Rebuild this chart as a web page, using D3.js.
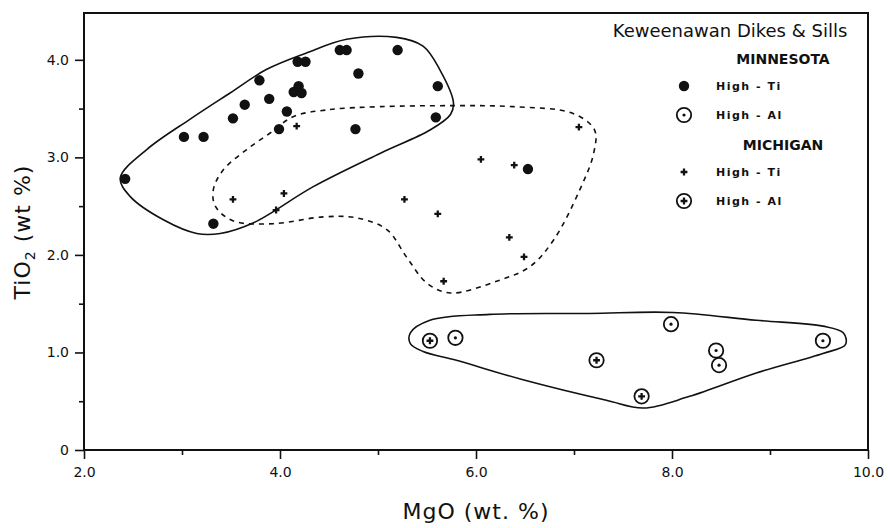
<!DOCTYPE html>
<html>
<head>
<meta charset="utf-8">
<script src="https://cdn.jsdelivr.net/npm/d3@7"></script>
<style>
  body { margin: 0; background: #fff; }
  text { font-family: "DejaVu Sans", sans-serif; fill: #111; }
</style>
</head>
<body>
<script>
// ---------------------------------------------------------------- data
// Minnesota High-Ti  [MgO, TiO2]
var mnHighTi = [
  [2.42,2.78],[3.02,3.21],[3.22,3.21],[3.52,3.40],[3.64,3.54],[3.79,3.79],
  [3.89,3.60],[4.07,3.47],[3.99,3.29],[4.18,3.98],[4.26,3.98],[4.19,3.73],
  [4.14,3.67],[4.22,3.66],[4.61,4.10],[4.68,4.10],[5.20,4.10],[4.80,3.86],
  [4.77,3.29],[5.61,3.73],[5.59,3.41],[3.32,2.32],[6.53,2.88]
];
// Minnesota High-Al
var mnHighAl = [[5.79,1.15],[7.99,1.29],[8.45,1.02],[8.48,0.87],[9.54,1.12]];
// Michigan High-Ti
var miHighTi = [
  [4.17,3.32],[3.52,2.57],[4.04,2.63],[3.96,2.46],[5.27,2.57],[5.61,2.42],
  [6.05,2.98],[6.39,2.92],[7.05,3.31],[6.34,2.18],[6.49,1.98],[5.67,1.73]
];
// Michigan High-Al
var miHighAl = [[5.53,1.12],[7.23,0.92],[7.69,0.55]];

// hand drawn envelopes
var envMnTi = [
  [2.37,2.79],[2.64,3.08],[3.08,3.39],[3.49,3.66],[3.86,3.90],[4.27,4.07],
  [4.68,4.21],[5.19,4.23],[5.46,4.14],[5.63,3.90],[5.77,3.56],[5.74,3.44],
  [5.53,3.28],[5.02,3.04],[4.34,2.70],[3.73,2.33],[3.39,2.22],[3.15,2.22],
  [2.81,2.36],[2.47,2.60]
];
var envMiTi = [
  [4.14,3.42],[4.51,3.49],[5.02,3.52],[5.77,3.53],[6.38,3.52],[6.99,3.45],
  [7.21,3.28],[7.20,3.04],[7.06,2.67],[6.79,2.15],[6.55,1.88],[6.21,1.73],
  [5.74,1.61],[5.50,1.71],[5.29,1.98],[5.09,2.26],[4.78,2.38],[4.44,2.39],
  [3.93,2.32],[3.52,2.35],[3.34,2.50],[3.32,2.67],[3.42,2.87],[3.66,3.08],
  [3.90,3.25]
];
var envHighAl = [
  [5.33,1.20],[5.53,1.33],[6.14,1.39],[7.16,1.40],[8.01,1.41],[8.86,1.33],
  [9.54,1.27],[9.75,1.20],[9.77,1.08],[9.54,0.99],[8.86,0.79],[8.18,0.55],
  [7.71,0.43],[7.33,0.51],[6.48,0.72],[5.80,0.92],[5.46,1.01],[5.33,1.09]
];

var xTicks = [2,4,6,8,10];
var xMinor = [3,5,7,9];
var xTickLabels = ["2.0","4.0","6.0","8.0","10.0"];
var yTicks = [0,1,2,3,4];
var yMinor = [0.5,1.5,2.5,3.5];
var yTickLabels = ["0","1.0","2.0","3.0","4.0"];

var legendGroups = ["MINNESOTA","MICHIGAN"];
var legendItems = [
  {group:"MINNESOTA", sym:"dot",   label:"High - Ti"},
  {group:"MINNESOTA", sym:"cdot",  label:"High - Al"},
  {group:"MICHIGAN",  sym:"plus",  label:"High - Ti"},
  {group:"MICHIGAN",  sym:"cplus", label:"High - Al"}
];

// ---------------------------------------------------------------- setup
var W = 888, H = 528;
var padL = 84, padR = 868, padT = 13, padB = 450;

var svg = d3.select("body").append("svg")
    .attr("width", W)
    .attr("height", H);

var x = d3.scaleLinear().domain([2,10]).range([padL,padR]);
var y = d3.scaleLinear().domain([0,4.48]).range([padB,padT]);

//****************************** frame / axes
svg.append("rect")
  .attr("x", padL).attr("y", padT)
  .attr("width", padR-padL).attr("height", padB-padT)
  .attr("fill","none").attr("stroke","#111").attr("stroke-width",2);

var xAxis = svg.append("g")
  .attr("transform","translate(0,"+padB+")")
  .call(d3.axisBottom(x).tickValues(xTicks).tickSize(9).tickPadding(8)
        .tickFormat(function(d,i){ return xTickLabels[i]; }));
var xAxisMinor = svg.append("g")
  .attr("transform","translate(0,"+padB+")")
  .call(d3.axisBottom(x).tickValues(xMinor).tickSize(5).tickFormat(""));

var yAxis = svg.append("g")
  .attr("transform","translate("+padL+",0)")
  .call(d3.axisLeft(y).tickValues(yTicks).tickSize(9).tickPadding(6)
        .tickFormat(function(d,i){ return yTickLabels[i]; }));
var yAxisMinor = svg.append("g")
  .attr("transform","translate("+padL+",0)")
  .call(d3.axisLeft(y).tickValues(yMinor).tickSize(5).tickFormat(""));

[xAxis,xAxisMinor,yAxis,yAxisMinor].forEach(function(g){
  g.select(".domain").remove();
  g.selectAll("line").attr("stroke","#111").attr("stroke-width",1.6);
  g.selectAll("text").attr("font-size","14px").attr("fill","#111")
    .attr("font-family","DejaVu Sans, sans-serif");
});

// axis titles
svg.append("text")
  .attr("x", 476).attr("y", 519)
  .attr("text-anchor","middle")
  .attr("font-size","22px")
  .attr("letter-spacing","1px")
  .text("MgO (wt. %)");

var yt = svg.append("text")
  .attr("transform","translate(30,232) rotate(-90)")
  .attr("text-anchor","middle")
  .attr("font-size","22px")
  .attr("letter-spacing","1px");
yt.append("tspan").text("TiO");
yt.append("tspan").attr("font-size","14px").attr("dy","5").text("2");
yt.append("tspan").attr("dy","-5").text(" (wt %)");

//****************************** envelopes
var env = d3.line()
  .x(function(d){ return x(d[0]); })
  .y(function(d){ return y(d[1]); })
  .curve(d3.curveCatmullRomClosed.alpha(0.5));

svg.append("path").datum(envMnTi)
  .attr("d", env).attr("fill","none")
  .attr("stroke","#111").attr("stroke-width",1.6);
svg.append("path").datum(envMiTi)
  .attr("d", env).attr("fill","none")
  .attr("stroke","#111").attr("stroke-width",1.6)
  .attr("stroke-dasharray","5,5");
svg.append("path").datum(envHighAl)
  .attr("d", env).attr("fill","none")
  .attr("stroke","#111").attr("stroke-width",1.6);

//****************************** symbols
var cross = d3.symbol().type(d3.symbolCross).size(26);

function drawSym(g, kind){
  if (kind==="dot") {
    g.append("circle").attr("r",5.2).attr("fill","#111");
  } else if (kind==="plus") {
    g.append("path").attr("d",cross).attr("fill","#111");
  } else {
    g.append("circle").attr("r",7.2).attr("fill","#fff")
      .attr("stroke","#111").attr("stroke-width",1.8);
    if (kind==="cdot") g.append("circle").attr("r",1.6).attr("fill","#111");
    else g.append("path").attr("d",cross).attr("fill","#111");
  }
}

function plotSet(data, kind){
  svg.selectAll("g.pt-"+kind)
    .data(data)
    .enter().append("g")
      .attr("class","pt-"+kind)
      .attr("transform",function(d){ return "translate("+x(d[0])+","+y(d[1])+")"; })
      .each(function(){ drawSym(d3.select(this), kind); });
}
plotSet(mnHighTi,"dot");
plotSet(miHighTi,"plus");
plotSet(mnHighAl,"cdot");
plotSet(miHighAl,"cplus");

//****************************** legend
svg.append("text")
  .attr("x", 730).attr("y", 37)
  .attr("text-anchor","middle")
  .attr("font-size","18px")
  .text("Keweenawan Dikes & Sills");

var ly = 58;
legendGroups.forEach(function(grp){
  svg.append("text")
    .attr("x", 783).attr("y", ly+6)
    .attr("text-anchor","middle")
    .attr("font-size","14px").attr("font-weight","bold")
    .text(grp);
  ly += 28;
  legendItems.filter(function(d){ return d.group===grp; }).forEach(function(d){
    var g = svg.append("g").attr("transform","translate(684,"+ly+")");
    drawSym(g, d.sym);
    svg.append("text")
      .attr("x", 716).attr("y", ly+4)
      .attr("font-size","11px").attr("font-weight","bold")
      .attr("letter-spacing","1.5px")
      .text(d.label);
    ly += 29;
  });
});
</script>
</body>
</html>
